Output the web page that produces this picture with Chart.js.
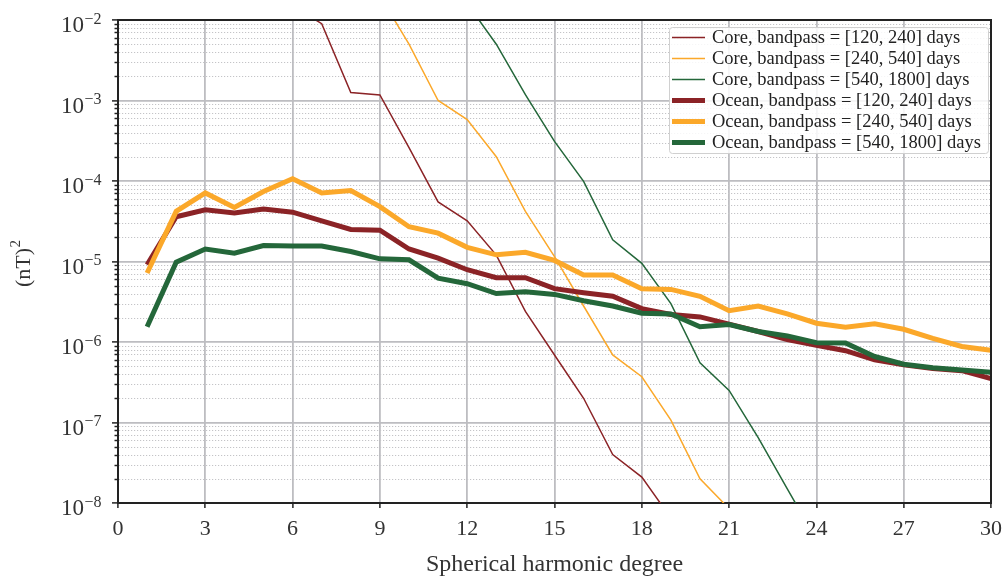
<!DOCTYPE html>
<html>
<head>
<meta charset="utf-8">
<script src="https://cdn.jsdelivr.net/npm/chart.js@4.4.1/dist/chart.umd.min.js"></script>
<style>
  html, body { margin: 0; padding: 0; background: #fff; }
  #wrap { width: 1004px; height: 579px; }
</style>
</head>
<body>
<div id="wrap"><canvas id="spectrum"></canvas></div>
<script>
// spherical harmonic degree n = 1..30
const degrees = [1, 2, 3, 4, 5, 6, 7, 8, 9, 10, 11, 12, 13, 14, 15, 16, 17, 18, 19, 20,
                 21, 22, 23, 24, 25, 26, 27, 28, 29, 30];

// core field, values in (nT)^2 (null = not plotted / far off the axis)
const core120 = [null, null, null, null, null, 1.5e-2, 9.0e-3, 1.26e-3, 1.17e-3, 2.6e-4,
                 5.5e-5, 3.2e-5, 1.2e-5, 2.4e-6, 6.9e-7, 2.0e-7, 4.0e-8, 2.1e-8, 6.5e-9, null,
                 null, null, null, null, null, null, null, null, null, null];
const core240 = [null, null, null, null, null, null, null, null, 2.0e-2, 5.0e-3,
                 1.0e-3, 5.8e-4, 2.0e-4, 4.2e-5, 1.15e-5, 2.8e-6, 6.9e-7, 3.7e-7, 1.07e-7, 2.0e-8,
                 8.5e-9, null, null, null, null, null, null, null, null, null];
const core540 = [null, null, null, null, null, null, null, null, null, null,
                 null, 1.6e-2, 5.0e-3, 1.18e-3, 3.1e-4, 9.9e-5, 1.86e-5, 9.5e-6, 3.0e-6, 5.5e-7,
                 2.5e-7, 6.5e-8, 1.5e-8, 3.5e-9, null, null, null, null, null, null];

// ocean induced field
const ocean120 = [9.1e-6, 3.6e-5, 4.4e-5, 4.0e-5, 4.5e-5, 4.1e-5, 3.2e-5, 2.5e-5, 2.45e-5, 1.43e-5,
                  1.1e-5, 7.9e-6, 6.3e-6, 6.3e-6, 4.6e-6, 4.1e-6, 3.7e-6, 2.6e-6, 2.2e-6, 2.05e-6,
                  1.67e-6, 1.35e-6, 1.07e-6, 9.1e-7, 7.8e-7, 6.0e-7, 5.2e-7, 4.7e-7, 4.4e-7, 3.5e-7];
const ocean240 = [7.2e-6, 4.2e-5, 7.1e-5, 4.7e-5, 7.4e-5, 1.07e-4, 7.1e-5, 7.6e-5, 4.8e-5, 2.7e-5,
                  2.25e-5, 1.5e-5, 1.21e-5, 1.3e-5, 1.03e-5, 6.8e-6, 6.8e-6, 4.6e-6, 4.5e-6, 3.7e-6,
                  2.45e-6, 2.8e-6, 2.24e-6, 1.71e-6, 1.53e-6, 1.68e-6, 1.44e-6, 1.11e-6, 8.8e-7, 7.9e-7];
const ocean540 = [1.55e-6, 9.8e-6, 1.43e-5, 1.27e-5, 1.58e-5, 1.56e-5, 1.56e-5, 1.33e-5, 1.08e-5, 1.05e-5,
                  6.2e-6, 5.3e-6, 4.0e-6, 4.2e-6, 3.9e-6, 3.25e-6, 2.8e-6, 2.28e-6, 2.23e-6, 1.55e-6,
                  1.65e-6, 1.35e-6, 1.19e-6, 9.8e-7, 9.7e-7, 6.6e-7, 5.3e-7, 4.8e-7, 4.5e-7, 4.2e-7];

const xTicks = [0, 3, 6, 9, 12, 15, 18, 21, 24, 27, 30];
const yExponents = [-8, -7, -6, -5, -4, -3, -2];
const minorMult = [2, 3, 4, 5, 6, 7, 8, 9];

const RED = '#8b2326', ORANGE = '#fba82a', GREEN = '#24673a';
const serif = '"Liberation Serif", "DejaVu Serif", serif';

const yMajor = yExponents.map(e => Math.pow(10, e));
const yMinor = [];
yExponents.slice(0, -1).forEach(e => minorMult.forEach(m => yMinor.push(m * Math.pow(10, e))));

function pts(values) {
  return degrees.map((d, i) => ({ x: d, y: values[i] }));
}

function series(label, values, color, width, order) {
  return { label, data: pts(values), borderColor: color, backgroundColor: color,
           borderWidth: width, order, clip: 0, spanGaps: false };
}

const decor = {
  id: 'decor',
  beforeDatasetsDraw(chart) {
    const { ctx, chartArea: a, scales: { y } } = chart;
    ctx.save();
    ctx.strokeStyle = '#c4c4c7';
    ctx.lineWidth = 1;
    ctx.setLineDash([1.2, 1.8]);
    yMinor.forEach(v => {
      const py = Math.round(y.getPixelForValue(v)) + 0.5;
      ctx.beginPath(); ctx.moveTo(a.left + 1, py); ctx.lineTo(a.right - 1, py); ctx.stroke();
    });
    ctx.setLineDash([]);
    ctx.strokeStyle = '#222';
    ctx.lineWidth = 1.5;
    yMinor.forEach(v => {
      const py = Math.round(y.getPixelForValue(v)) + 0.5;
      ctx.beginPath(); ctx.moveTo(a.left - 3.5, py); ctx.lineTo(a.left, py); ctx.stroke();
    });
    ctx.restore();
  },
  afterDraw(chart) {
    const { ctx, chartArea: a, scales: { y } } = chart;
    ctx.save();
    // top and right frame
    ctx.strokeStyle = '#222';
    ctx.lineWidth = 2;
    ctx.beginPath();
    ctx.moveTo(a.left - 1, a.top); ctx.lineTo(a.right, a.top); ctx.lineTo(a.right, a.bottom + 1);
    ctx.stroke();

    // y tick labels 10^n
    ctx.fillStyle = '#333';
    ctx.textBaseline = 'alphabetic';
    ctx.textAlign = 'right';
    yExponents.forEach(e => {
      const py = y.getPixelForValue(Math.pow(10, e));
      const sup = '\u2212' + Math.abs(e);
      ctx.font = '16px ' + serif;
      const sw = ctx.measureText(sup).width;
      ctx.fillText(sup, 101.5, py + 3.5);
      ctx.font = '23px ' + serif;
      ctx.fillText('10', 101.5 - sw - 0.5, py + 12);
    });

    // y axis title (nT)^2
    ctx.save();
    ctx.translate(30, 287);
    ctx.rotate(-Math.PI / 2);
    ctx.textAlign = 'left';
    ctx.font = '22px ' + serif;
    ctx.fillText('(nT)', 0, 0);
    const tw = ctx.measureText('(nT)').width;
    ctx.font = '15px ' + serif;
    ctx.fillText('2', tw + 0.5, -10);
    ctx.restore();

    // legend
    const bx = 669, by = 27, bw = 319, bh = 126;
    ctx.fillStyle = 'rgba(255,255,255,0.85)';
    ctx.strokeStyle = '#d0d0d0';
    ctx.lineWidth = 1;
    ctx.beginPath();
    ctx.roundRect(bx + 0.5, by + 0.5, bw, bh, 3);
    ctx.fill(); ctx.stroke();
    ctx.font = '18.5px ' + serif;
    ctx.textAlign = 'left';
    ctx.textBaseline = 'middle';
    chart.data.datasets.forEach((ds, i) => {
      const ry = 37.5 + i * 21;
      ctx.strokeStyle = ds.borderColor;
      ctx.lineWidth = ds.borderWidth;
      ctx.beginPath(); ctx.moveTo(672, ry); ctx.lineTo(705, ry); ctx.stroke();
      ctx.fillStyle = '#222';
      ctx.fillText(ds.label, 712, ry + 0.5);
    });
    ctx.restore();
  }
};

new Chart(document.getElementById('spectrum'), {
  type: 'line',
  data: {
    datasets: [
      series('Core, bandpass = [120, 240] days', core120, RED, 1.5, 6),
      series('Core, bandpass = [240, 540] days', core240, ORANGE, 1.5, 5),
      series('Core, bandpass = [540, 1800] days', core540, GREEN, 1.5, 4),
      series('Ocean, bandpass = [120, 240] days', ocean120, RED, 5, 3),
      series('Ocean, bandpass = [240, 540] days', ocean240, ORANGE, 5, 2),
      series('Ocean, bandpass = [540, 1800] days', ocean540, GREEN, 5, 1)
    ]
  },
  options: {
    responsive: true,
    maintainAspectRatio: false,
    animation: false,
    layout: { padding: { left: 0, right: 13, top: 20, bottom: 0 } },
    elements: { point: { radius: 0, hoverRadius: 0 }, line: { tension: 0, borderJoinStyle: 'miter' } },
    plugins: { legend: { display: false }, tooltip: { enabled: false } },
    scales: {
      x: {
        type: 'linear', min: 0, max: 30,
        afterBuildTicks: s => { s.ticks = xTicks.map(v => ({ value: v })); },
        afterFit: s => { s.height = 76; s.paddingLeft = 0; s.paddingRight = 0; },
        grid: { color: '#bdbdc1', lineWidth: 1.8, tickColor: '#222', tickLength: 5, tickWidth: 1.5 },
        border: { color: '#222', width: 2 },
        ticks: { font: { family: serif, size: 22 }, color: '#333', padding: 8, maxRotation: 0, autoSkip: false },
        title: { display: true, text: 'Spherical harmonic degree', color: '#333',
                 font: { family: serif, size: 24 }, padding: { top: 0, bottom: 0 } }
      },
      y: {
        type: 'logarithmic', min: 1e-8, max: 1e-2,
        afterBuildTicks: s => { s.ticks = yMajor.map(v => ({ value: v })); },
        afterFit: s => { s.width = 118; s.paddingTop = 0; s.paddingBottom = 0; },
        grid: { color: '#bdbdc1', lineWidth: 1.8, tickColor: '#222', tickLength: 6, tickWidth: 1.5 },
        border: { color: '#222', width: 2 },
        ticks: { callback: () => '' }
      }
    }
  },
  plugins: [decor]
});
</script>
</body>
</html>
